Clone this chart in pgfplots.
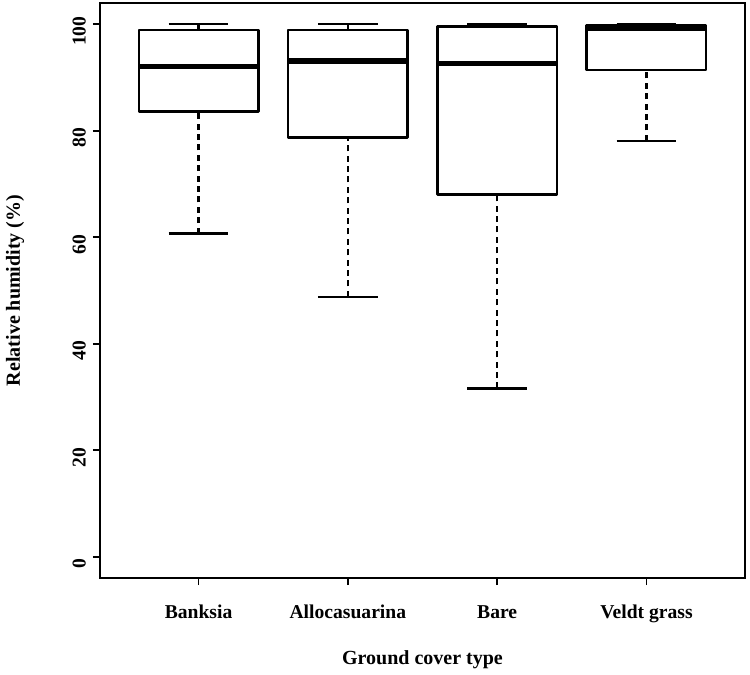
\documentclass[border=0pt]{standalone}
\usepackage{fontspec}
\setmainfont{Liberation Serif}
\usepackage{pgfplots}
\pgfplotsset{compat=1.18}
\usepgfplotslibrary{statistics}

% R-style whiskers: dashed stem, solid cap
\pgfplotsset{
  boxplot/draw/lower whisker/.code={%
    \draw[line width=1.1pt, dash pattern=on 3pt off 2.2pt]
      (boxplot box cs:\pgfplotsboxplotvalue{lower whisker},0.5) --
      (boxplot box cs:\pgfplotsboxplotvalue{lower quartile},0.5);
    \draw[solid, line width=1.2pt]
      (boxplot whisker cs:\pgfplotsboxplotvalue{lower whisker},0) --
      (boxplot whisker cs:\pgfplotsboxplotvalue{lower whisker},1);
  },
  boxplot/draw/upper whisker/.code={%
    \draw[line width=1.1pt, dash pattern=on 3pt off 2.2pt]
      (boxplot box cs:\pgfplotsboxplotvalue{upper quartile},0.5) --
      (boxplot box cs:\pgfplotsboxplotvalue{upper whisker},0.5);
    \draw[solid, line width=1.2pt]
      (boxplot whisker cs:\pgfplotsboxplotvalue{upper whisker},0) --
      (boxplot whisker cs:\pgfplotsboxplotvalue{upper whisker},1);
  },
  rbox/.style={black, solid, line width=1.3pt, line join=round, mark=none,
    boxplot/every median/.style={line width=2.6pt}},
}

\begin{document}
\begin{tikzpicture}
  \begin{axis}[
    width=322.5pt, height=287.5pt, scale only axis,
    boxplot/draw direction=y,
    xmin=0.34, xmax=4.66, ymin=-4, ymax=104,
    axis line style={line width=1pt},
    xtick={1,2,3,4},
    xticklabels={Banksia, Allocasuarina, Bare, Veldt grass},
    ytick={0,20,40,60,80,100},
    xtick pos=bottom, ytick pos=left,
    tick align=outside, major tick length=3.6pt,
    tick style={line width=0.9pt, black},
    xticklabel style={font=\fontsize{9.8}{11}\selectfont\bfseries, anchor=base, yshift=-16.5pt},
    yticklabel style={font=\fontsize{9.8}{11}\selectfont\bfseries, rotate=90, anchor=south, xshift=-3.5pt},
    /pgf/number format/assume math mode=true,
    xlabel={Ground cover type},
    ylabel={Relative humidity (\%)},
    xlabel style={font=\fontsize{10}{12}\selectfont\bfseries, at={(axis description cs:0.5,-0.1426)}, anchor=center},
    ylabel style={font=\fontsize{10}{12}\selectfont\bfseries, at={(axis description cs:-0.1318,0.5)}, anchor=center},
  ]
    % Banksia
    \addplot[rbox, boxplot prepared={draw position=1, box extend=0.8, whisker extend=0.4,
      lower whisker=60.7, lower quartile=83.6,
      median=92.1, upper quartile=98.9, upper whisker=100}] coordinates {};
    % Allocasuarina
    \addplot[rbox, boxplot prepared={draw position=2, box extend=0.8, whisker extend=0.4,
      lower whisker=48.8, lower quartile=78.7,
      median=93.1, upper quartile=98.9, upper whisker=100}] coordinates {};
    % Bare
    \addplot[rbox, boxplot prepared={draw position=3, box extend=0.8, whisker extend=0.4,
      lower whisker=31.6, lower quartile=68.0,
      median=92.6, upper quartile=99.6, upper whisker=100}] coordinates {};
    % Veldt grass
    \addplot[rbox, boxplot prepared={draw position=4, box extend=0.8, whisker extend=0.4,
      lower whisker=78.1, lower quartile=91.4,
      median=99.2, upper quartile=99.8, upper whisker=100}] coordinates {};
  \end{axis}
  \pgfresetboundingbox
  \path[use as bounding box] ([shift={(-50pt,-48.5pt)}]current axis.south west)
    rectangle ([shift={(2.5pt,1.5pt)}]current axis.north east);
\end{tikzpicture}
\end{document}
